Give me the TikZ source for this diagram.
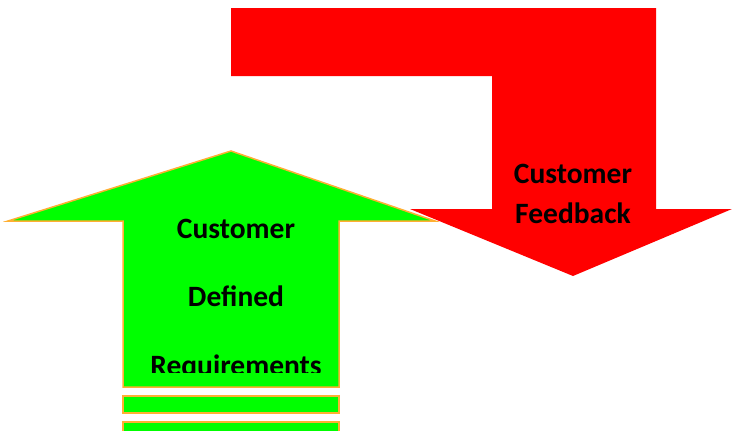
\documentclass[tikz,border=0pt]{standalone}
\usepackage{fontspec}
\setmainfont{Carlito}
\usetikzlibrary{positioning}
\definecolor{rimorange}{RGB}{255,175,50}
\tikzset{arrowtxt/.style={font=\bfseries\fontsize{29.5}{34}\selectfont,anchor=base,inner sep=0pt}}
\tikzset{greenpart/.style={fill=green,draw=rimorange,line width=1.5pt}}

\begin{document}
\begin{tikzpicture}[x=1pt,y=-1pt]
    \useasboundingbox (0,0) rectangle (732,431);

    % feedback arrow
    \fill[red] (231,8) -- (656,8) -- (656,209) -- (732,209) -- (573,276)
        -- (410,209) -- (492,209) -- (492,76) -- (231,76) -- cycle;
    \node[arrowtxt] (fbone) at (573,183) {Customer};
    \node[arrowtxt] (fbtwo) at (573,223) {Feedback};

    % requirements arrow
    \path[greenpart] (231,151) -- (435,221) -- (339,221) -- (339,387)
        -- (123,387) -- (123,221) -- (8,221) -- cycle;
    \path[greenpart] (123,396) rectangle (339,413);
    \path[greenpart] (123,422) rectangle (339,436);
    \node[arrowtxt] (rqone) at (236,238) {Customer};
    \node[arrowtxt] (rqtwo) at (236,306) {Defined};
    \begin{scope}
        \clip (123,330) rectangle (339,372);
        \node[arrowtxt] (rqthree) at (236,375) {Requirements};
    \end{scope}
\end{tikzpicture}
\end{document}
